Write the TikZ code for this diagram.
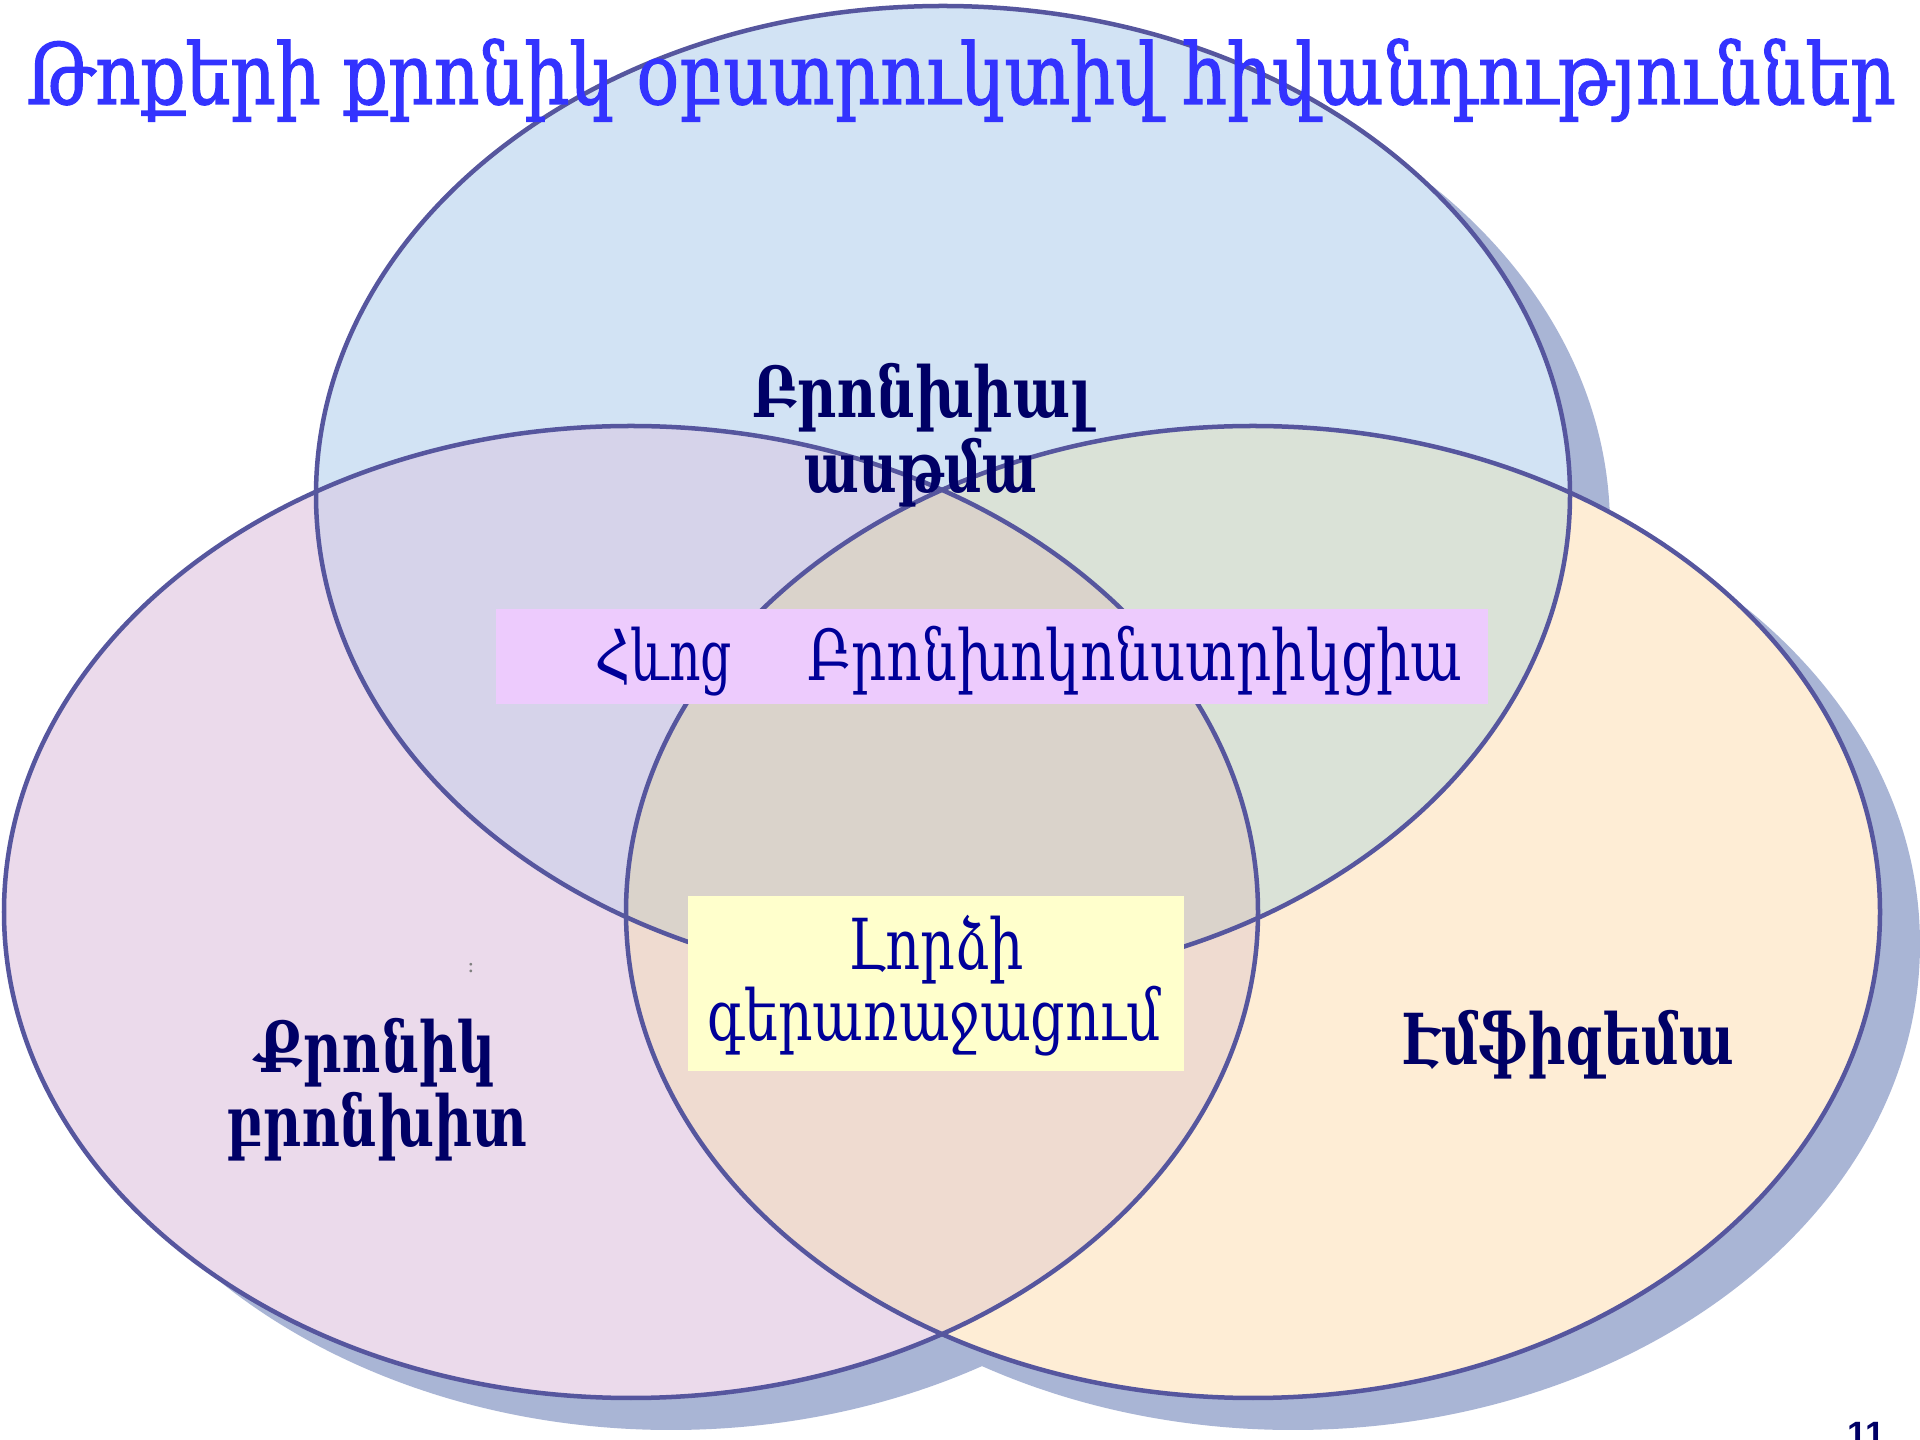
\documentclass[tikz,border=0pt]{standalone}
\usepackage{fontspec}
\setmainfont{DejaVu Serif}
\newfontfamily\titlefont{DejaVu Serif}[FakeBold=1.6]
\newfontfamily\numfont{Liberation Sans}
\usepackage{graphicx}
\newlength\natw
\newcommand\fitw[2]{\settowidth\natw{#2}\scalebox{\fpeval{#1/\natw}}[1]{#2}}
\definecolor{topc}{HTML}{D2E3F4}
\definecolor{leftc}{HTML}{EBDAEB}
\definecolor{rightc}{HTML}{FEEDD5}
\definecolor{tlc}{HTML}{D6D3EA}
\definecolor{trc}{HTML}{DAE2D7}
\definecolor{lrc}{HTML}{EFDBD0}
\definecolor{tlrc}{HTML}{DAD3CB}
\definecolor{outl}{HTML}{56569E}
\definecolor{shad}{HTML}{A9B5D5}
\definecolor{pinkbox}{HTML}{EDCBFD}
\definecolor{yelbox}{HTML}{FFFFCC}
\definecolor{titleblue}{HTML}{3333FF}
\definecolor{navy}{HTML}{000066}
\definecolor{boxtext}{HTML}{000099}
\tikzset{
  outline/.style={draw=outl, line width=0.045cm},
  lbl/.style={anchor=base, inner sep=0pt, text=navy, font=\fontsize{20pt}{24pt}\selectfont\bfseries},
  btxt/.style={anchor=base, inner sep=0pt, text=boxtext, font=\fontsize{20pt}{24pt}\selectfont},
}
\begin{document}
\begin{tikzpicture}[x=0.01cm, y=-0.01cm]
\useasboundingbox (0,0) rectangle (1920,1440);
\fill[white] (0,0) rectangle (1920,1440);
\def\Tpath{(943,495) ellipse [x radius=627, y radius=489]}
\def\Lpath{(631,912) ellipse [x radius=627, y radius=486]}
\def\Rpath{(1253,912) ellipse [x radius=627, y radius=486]}
% shadows
\begin{scope}[shift={(40,32)}]
  \fill[shad] \Tpath;
  \fill[shad] \Lpath;
  \fill[shad] \Rpath;
\end{scope}
% fills
\fill[topc] \Tpath;
\fill[leftc] \Lpath;
\fill[rightc] \Rpath;
\begin{scope}
  \clip \Lpath;
  \fill[lrc] \Rpath;
\end{scope}
\begin{scope}
  \clip \Tpath;
  \fill[tlc] \Lpath;
  \fill[trc] \Rpath;
  \clip \Lpath;
  \fill[tlrc] \Rpath;
\end{scope}
% outlines
\draw[outline] \Tpath;
\draw[outline] \Lpath;
\draw[outline] \Rpath;
% boxes
\node (hbox) [fill=pinkbox, inner sep=0pt, minimum width=9.92cm, minimum height=0.95cm] at (992,656.5) {};
\node (ybox) [fill=yelbox, inner sep=0pt, minimum width=4.96cm, minimum height=1.75cm] at (936,983.5) {};
% title
\node (title) [anchor=base, inner sep=0pt, text=titleblue, font=\titlefont\fontsize{24pt}{28pt}\selectfont] at (961,104) {\fitw{18.68cm}{Թոքերի քրոնիկ օբստրուկտիվ հիվանդություններ}};
% labels
\node (ba1) [lbl] at (922,418) {\fitw{3.39cm}{Բրոնխիալ}};
\node (ba2) [lbl] at (921,493) {\fitw{2.32cm}{ասթմա}};
\node (qb1) [lbl] at (376,1073) {\fitw{2.39cm}{Քրոնիկ}};
\node (qb2) [lbl] at (377,1147) {\fitw{3.00cm}{բրոնխիտ}};
\node (emf) [lbl] at (1568,1065) {\fitw{3.31cm}{Էմֆիզեմա}};
\node (hevoc) [btxt] at (664,681) {\fitw{1.36cm}{Հևոց}};
\node (bronkh) [btxt] at (1135,681) {\fitw{6.55cm}{Բրոնխոկոնստրիկցիա}};
\node (lorc1) [btxt] at (936,970) {\fitw{1.75cm}{Լորձի}};
\node (lorc2) [btxt] at (934,1041) {\fitw{4.53cm}{գերառաջացում}};
\node (dots) [inner sep=0pt, text=gray, font=\fontsize{6pt}{6pt}\selectfont] at (471,968) {:};
\node (pnum) [anchor=base, inner sep=0pt, text=navy, font=\numfont\bfseries\fontsize{10pt}{12pt}\selectfont] at (1866,1446) {11};
\end{tikzpicture}
\end{document}
